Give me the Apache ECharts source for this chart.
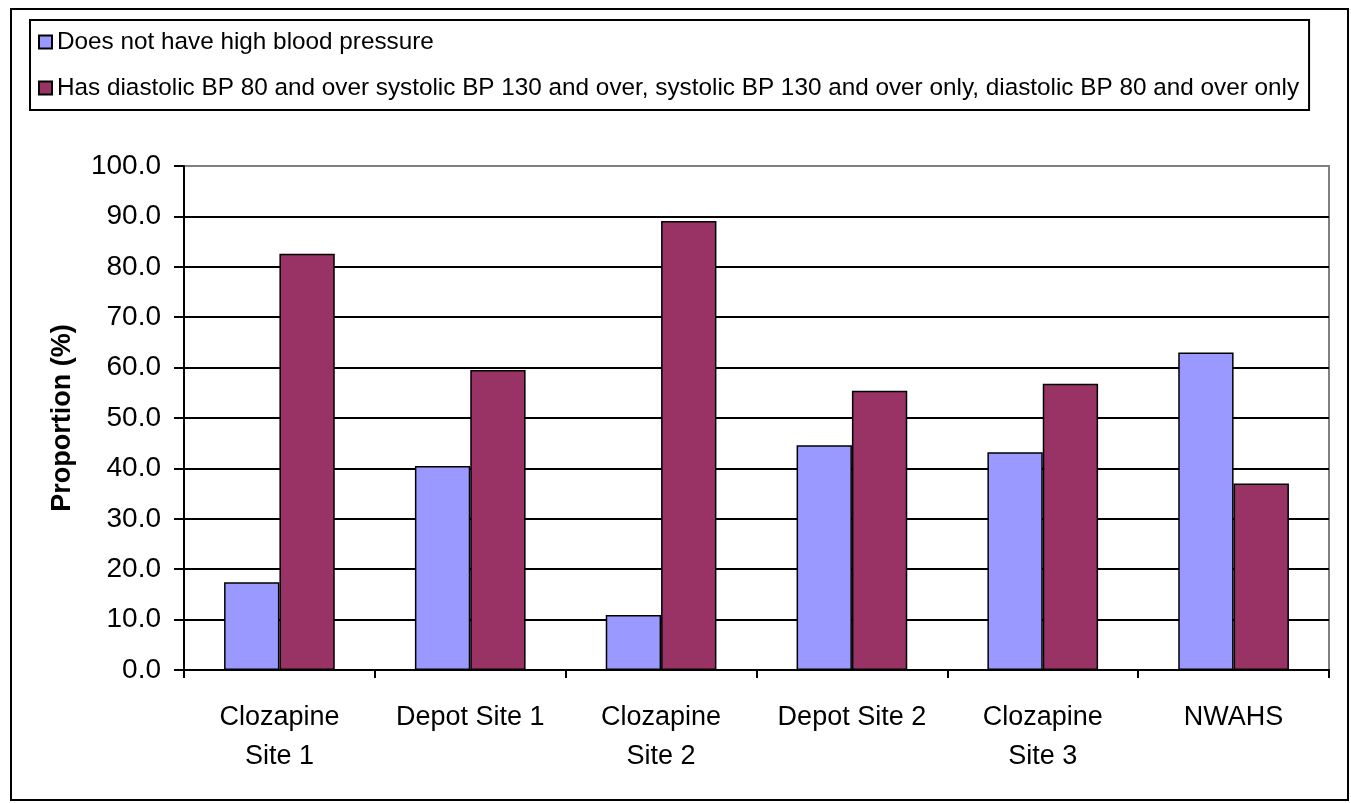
<!DOCTYPE html>
<html>
<head>
<meta charset="utf-8">
<script src="https://cdn.jsdelivr.net/npm/echarts@6/dist/echarts.min.js"></script>
<style>
  html, body { margin: 0; padding: 0; background: #fff; }
  #main { width: 1351px; height: 803px; }
</style>
</head>
<body>
<div id="main"></div>
<script>
// chart data
var categories = ['Clozapine\nSite 1', 'Depot Site 1', 'Clozapine\nSite 2', 'Depot Site 2', 'Clozapine\nSite 3', 'NWAHS'];
var seriesNames = [
    'Does not have high blood pressure',
    'Has diastolic BP 80 and over systolic BP 130 and over, systolic BP 130 and over only, diastolic BP 80 and over only'
];
var noHighBP = [17.4, 40.5, 10.9, 44.6, 43.2, 63.0];
var hasHighBP = [82.6, 59.5, 89.1, 55.4, 56.8, 37.0];
var yTicks = [0, 10, 20, 30, 40, 50, 60, 70, 80, 90, 100];

var fontName = 'Liberation Sans, Arial, sans-serif';

// black gridlines, the top one is the grey plot border
var gridColors = [];
for (var i = 0; i < yTicks.length; i++) {
    gridColors.push(i == yTicks.length - 1 ? '#808080' : '#000');
}

var myChart = echarts.init(document.getElementById('main'));
var option = {
    backgroundColor: '#fff',
    animation: false,
    textStyle: { fontFamily: fontName },
    graphic: [{
        type: 'rect',
        shape: { x: 11, y: 9, width: 1337, height: 791 },
        style: { fill: null, stroke: '#000', lineWidth: 2 },
        silent: true
    }],
    legend: {
        orient: 'vertical',
        left: 30,
        top: 20,
        padding: [10, 10, 10, 8],
        itemGap: 22,
        itemWidth: 13,
        itemHeight: 13,
        icon: 'rect',
        borderColor: '#000',
        borderWidth: 2,
        textStyle: { fontSize: 24.3, color: '#000', fontFamily: fontName },
        data: seriesNames
    },
    grid: {
        left: 184,
        right: 22,
        top: 166,
        bottom: 133,
        show: true,
        borderColor: '#808080',
        borderWidth: 2
    },
    xAxis: {
        type: 'category',
        data: categories,
        axisLine: { lineStyle: { color: '#000', width: 2 } },
        axisTick: { show: true, alignWithLabel: false, length: 8, lineStyle: { color: '#000', width: 2 } },
        axisLabel: { color: '#000', fontSize: 27, lineHeight: 39, margin: 28, interval: 0 }
    },
    yAxis: {
        type: 'value',
        min: 0,
        max: 100,
        interval: 10,
        name: 'Proportion (%)',
        nameLocation: 'middle',
        nameGap: 108,
        nameTextStyle: { fontSize: 27, fontWeight: 'bold', color: '#000' },
        axisLine: { show: true, lineStyle: { color: '#000', width: 2 } },
        axisTick: { show: true, length: 10, lineStyle: { color: '#000', width: 2 } },
        axisLabel: {
            color: '#000',
            fontSize: 28,
            margin: 23,
            formatter: function (v) { return v.toFixed(1); }
        },
        splitLine: { show: true, lineStyle: { color: gridColors, width: 2 } }
    },
    series: [
        {
            name: seriesNames[0],
            type: 'bar',
            data: noHighBP,
            barGap: '0%',
            barCategoryGap: '42%',
            itemStyle: { color: '#9999FF', borderColor: '#000', borderWidth: 1.5 }
        },
        {
            name: seriesNames[1],
            type: 'bar',
            data: hasHighBP,
            barGap: '0%',
            barCategoryGap: '42%',
            itemStyle: { color: '#993366', borderColor: '#000', borderWidth: 1.5 }
        }
    ]
};
myChart.setOption(option);
</script>
</body>
</html>
